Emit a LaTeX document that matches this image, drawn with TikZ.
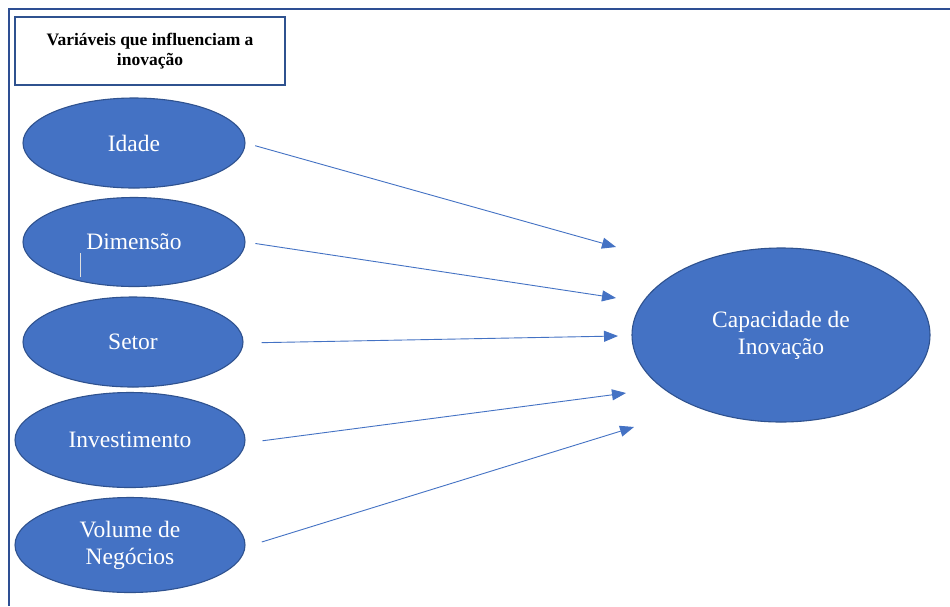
\documentclass[tikz,border=0pt]{standalone}
\usepackage{fontspec}
\setmainfont{Liberation Serif}
\usetikzlibrary{shapes.geometric,arrows.meta}
\definecolor{fillblue}{HTML}{4472C4}
\definecolor{edgeblue}{HTML}{2F528F}
\definecolor{framecol}{HTML}{2E4F93}
\begin{document}
\begin{tikzpicture}[x=1pt,y=-1pt,
  var/.style={ellipse,draw=edgeblue,line width=1.1pt,fill=fillblue,inner sep=0pt,
    text=white,align=center,font=\fontsize{23.5}{27}\selectfont},
  arr/.style={draw=fillblue,line width=0.9pt,-{Triangle[length=14pt,width=11pt]}},
  titlebox/.style={draw=edgeblue,line width=1.5pt,fill=white,align=center,
    font=\fontsize{17.5}{20}\selectfont\bfseries}
]
\useasboundingbox (0,0) rectangle (950,606);
\fill[white] (0,0) rectangle (950,606);
% outer frame (top and left edges)
\draw[framecol,line width=1.8pt] (950,9) -- (9,9) -- (9,606);
% title
\node[titlebox,minimum width=270pt,minimum height=68pt] (title) at (150,51)
  {Variáveis que influenciam a\\inovação};
% variables
\node[var,minimum width=222pt,minimum height=90pt] (idade) at (134,143) {Idade};
\node[var,minimum width=222pt,minimum height=89pt] (dim) at (134,242) {Dimensão};
\node[var,minimum width=220pt,minimum height=90pt] (setor) at (133,342) {Setor};
\node[var,minimum width=230pt,minimum height=95pt] (inv) at (130,440) {Investimento};
\node[var,minimum width=230pt,minimum height=95pt] (vol) at (130,545) {Volume de\\Negócios};
\node[var,minimum width=298pt,minimum height=174pt] (cap) at (781,335) {Capacidade de\\Inovação};
% cursor artefact
\draw[white!75!gray,line width=0.8pt] (80,253) -- (80,277);
% arrow tips
\coordinate (t1) at (616,247);
\coordinate (t2) at (616,298);
\coordinate (t3) at (618,336);
\coordinate (t4) at (626,393);
\coordinate (t5) at (634,427);
\draw[arr,shorten <=10pt] (idade.east) -- (t1);
\draw[arr,shorten <=10pt] (dim.east) -- (t2);
\draw[arr,shorten <=18pt] ([yshift=-1pt]setor.east) -- (t3);
\draw[arr,shorten <=17pt] ([yshift=-3pt]inv.east) -- (t4);
\draw[arr,shorten <=17pt] ([yshift=-2pt]vol.east) -- (t5);
\end{tikzpicture}
\end{document}
